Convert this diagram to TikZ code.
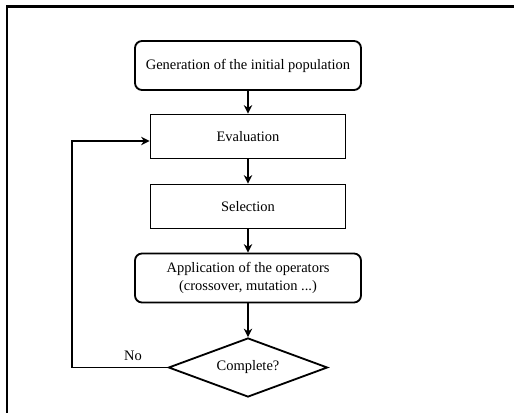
\documentclass[tikz,border=0pt]{standalone}
\usepackage{fontspec}
\setmainfont{Liberation Serif}
\usetikzlibrary{arrows.meta,shapes.geometric}

\tikzset{
  stepbox/.style={draw, line width=1.3pt, minimum width=195*0.025cm, minimum height=44*0.025cm,
    inner sep=2pt, align=center, font=\fontsize{10.3}{12.5}\selectfont},
  roundbox/.style={stepbox, rounded corners=5pt, minimum width=226*0.025cm, minimum height=49*0.025cm},
  testbox/.style={draw, line width=1.3pt, diamond, aspect=2.7, minimum width=159*0.025cm,
    minimum height=59*0.025cm, inner sep=0pt, font=\fontsize{10.3}{12.5}\selectfont},
  flow/.style={line width=1.3pt, -{Stealth[length=6pt, width=6pt]}}
}

\begin{document}
\begin{tikzpicture}[x=0.025cm, y=-0.025cm]

  % -- page area and the clipped frame ------------------------------------
  \useasboundingbox (0,0) rectangle (514,413);
  \draw[line width=1.6pt] (7,413) -- (7,6.5) -- (514,6.5);

  % -- the steps ------------------------------------------------------------
  \node[roundbox] (gen)  at (248,65.5) {Generation of the initial population};
  \node[stepbox]  (eval) at (248,136.5) {Evaluation};
  \node[stepbox]  (sel)  at (248,206.5) {Selection};
  \node[roundbox] (app)  at (248,278) {Application of the operators\\(crossover, mutation ...)};
  \node[testbox]  (done) at (248,367.5) {Complete?};

  % -- arrows down ----------------------------------------------------------
  \draw[flow] (gen) -- (eval);
  \draw[flow] (eval) -- (sel);
  \draw[flow] (sel) -- (app);
  \draw[flow] (app) -- (done);

  % -- back to evaluation ---------------------------------------------------
  \coordinate (back) at (72,141);
  \draw[flow] (done.west) -| (back) -- (back -| eval.west);
  \node[font=\fontsize{10.3}{12.5}\selectfont] (no) at (133,356) {No};

\end{tikzpicture}
\end{document}
